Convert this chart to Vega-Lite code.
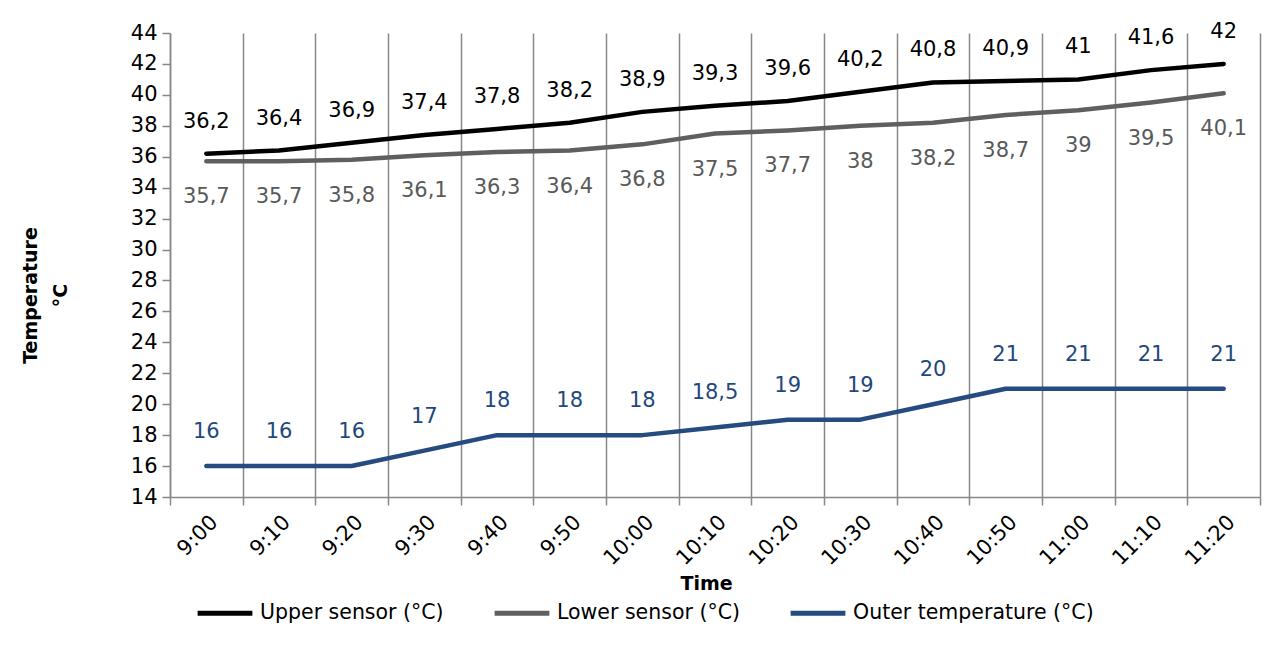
{
  "$schema": "https://vega.github.io/schema/vega-lite/v6.json",
  "width": 1090,
  "height": 464,
  "autosize": {"type": "none"},
  "padding": {"left": 170, "top": 33, "right": 22, "bottom": 149},
  "background": "white",
  "config": {
    "locale": {"number": {"decimal": ",", "thousands": ".", "grouping": [3], "currency": ["", " €"]}},
    "font": "DejaVu Sans",
    "view": {"stroke": null}
  },
  "data": {
    "values": [
      {"time": "9:00", "series": "Upper sensor (°C)", "value": 36.2},
      {"time": "9:10", "series": "Upper sensor (°C)", "value": 36.4},
      {"time": "9:20", "series": "Upper sensor (°C)", "value": 36.9},
      {"time": "9:30", "series": "Upper sensor (°C)", "value": 37.4},
      {"time": "9:40", "series": "Upper sensor (°C)", "value": 37.8},
      {"time": "9:50", "series": "Upper sensor (°C)", "value": 38.2},
      {"time": "10:00", "series": "Upper sensor (°C)", "value": 38.9},
      {"time": "10:10", "series": "Upper sensor (°C)", "value": 39.3},
      {"time": "10:20", "series": "Upper sensor (°C)", "value": 39.6},
      {"time": "10:30", "series": "Upper sensor (°C)", "value": 40.2},
      {"time": "10:40", "series": "Upper sensor (°C)", "value": 40.8},
      {"time": "10:50", "series": "Upper sensor (°C)", "value": 40.9},
      {"time": "11:00", "series": "Upper sensor (°C)", "value": 41},
      {"time": "11:10", "series": "Upper sensor (°C)", "value": 41.6},
      {"time": "11:20", "series": "Upper sensor (°C)", "value": 42},
      {"time": "9:00", "series": "Lower sensor (°C)", "value": 35.7},
      {"time": "9:10", "series": "Lower sensor (°C)", "value": 35.7},
      {"time": "9:20", "series": "Lower sensor (°C)", "value": 35.8},
      {"time": "9:30", "series": "Lower sensor (°C)", "value": 36.1},
      {"time": "9:40", "series": "Lower sensor (°C)", "value": 36.3},
      {"time": "9:50", "series": "Lower sensor (°C)", "value": 36.4},
      {"time": "10:00", "series": "Lower sensor (°C)", "value": 36.8},
      {"time": "10:10", "series": "Lower sensor (°C)", "value": 37.5},
      {"time": "10:20", "series": "Lower sensor (°C)", "value": 37.7},
      {"time": "10:30", "series": "Lower sensor (°C)", "value": 38},
      {"time": "10:40", "series": "Lower sensor (°C)", "value": 38.2},
      {"time": "10:50", "series": "Lower sensor (°C)", "value": 38.7},
      {"time": "11:00", "series": "Lower sensor (°C)", "value": 39},
      {"time": "11:10", "series": "Lower sensor (°C)", "value": 39.5},
      {"time": "11:20", "series": "Lower sensor (°C)", "value": 40.1},
      {"time": "9:00", "series": "Outer temperature (°C)", "value": 16},
      {"time": "9:10", "series": "Outer temperature (°C)", "value": 16},
      {"time": "9:20", "series": "Outer temperature (°C)", "value": 16},
      {"time": "9:30", "series": "Outer temperature (°C)", "value": 17},
      {"time": "9:40", "series": "Outer temperature (°C)", "value": 18},
      {"time": "9:50", "series": "Outer temperature (°C)", "value": 18},
      {"time": "10:00", "series": "Outer temperature (°C)", "value": 18},
      {"time": "10:10", "series": "Outer temperature (°C)", "value": 18.5},
      {"time": "10:20", "series": "Outer temperature (°C)", "value": 19},
      {"time": "10:30", "series": "Outer temperature (°C)", "value": 19},
      {"time": "10:40", "series": "Outer temperature (°C)", "value": 20},
      {"time": "10:50", "series": "Outer temperature (°C)", "value": 21},
      {"time": "11:00", "series": "Outer temperature (°C)", "value": 21},
      {"time": "11:10", "series": "Outer temperature (°C)", "value": 21},
      {"time": "11:20", "series": "Outer temperature (°C)", "value": 21}
    ]
  },
  "encoding": {
    "x": {
      "field": "time",
      "type": "ordinal",
      "sort": null,
      "scale": {"type": "band", "paddingInner": 0, "paddingOuter": 0},
      "axis": {
        "tickBand": "extent",
        "grid": true,
        "gridColor": "#878787",
        "gridWidth": 1.5,
        "domainColor": "#878787",
        "domainWidth": 1.5,
        "tickColor": "#878787",
        "tickWidth": 1.5,
        "tickSize": 8,
        "labelAngle": -45,
        "labelFontSize": 21,
        "labelColor": "black",
        "labelPadding": 6,
        "title": "Time",
        "titleFontSize": 19,
        "titleFontWeight": "bold",
        "titleColor": "black",
        "titleX": 536,
        "titleY": 86,
        "titleBaseline": "middle"
      }
    },
    "y": {
      "field": "value",
      "type": "quantitative",
      "scale": {"domain": [14, 44], "nice": false, "zero": false},
      "axis": {
        "values": [14, 16, 18, 20, 22, 24, 26, 28, 30, 32, 34, 36, 38, 40, 42, 44],
        "grid": false,
        "domainColor": "#878787",
        "domainWidth": 1.5,
        "tickColor": "#878787",
        "tickWidth": 1.5,
        "tickSize": 8,
        "labelFontSize": 21,
        "labelColor": "black",
        "labelPadding": 5,
        "title": ["Temperature", "°C"],
        "titleFontSize": 19,
        "titleFontWeight": "bold",
        "titleColor": "black",
        "titleLineHeight": 30,
        "titleX": -140,
        "titleY": 262,
        "titleBaseline": "middle",
        "titleAlign": "center"
      }
    }
  },
  "layer": [
    {
      "mark": {"type": "line", "strokeWidth": 4.5, "strokeCap": "round", "strokeJoin": "round"},
      "encoding": {
        "color": {
          "field": "series",
          "type": "nominal",
          "sort": null,
          "scale": {
            "domain": ["Upper sensor (°C)", "Lower sensor (°C)", "Outer temperature (°C)"],
            "range": ["#000000", "#5f5f5f", "#254b80"]
          },
          "legend": {
            "orient": "none",
            "legendX": 25,
            "legendY": 550,
            "direction": "horizontal",
            "title": null,
            "symbolType": "stroke",
            "symbolSize": 3000,
            "symbolStrokeWidth": 5,
            "labelFontSize": 20.5,
            "labelColor": "black",
            "labelOffset": 5,
            "columnPadding": 40,
            "labelLimit": 400
          }
        }
      }
    },
    {
      "transform": [{"filter": "datum.series === 'Upper sensor (°C)'"}],
      "mark": {"type": "text", "dy": -32, "fontSize": 21, "color": "#000000"},
      "encoding": {"text": {"field": "value", "type": "quantitative", "format": "~g"}}
    },
    {
      "transform": [{"filter": "datum.series === 'Lower sensor (°C)'"}],
      "mark": {"type": "text", "dy": 36, "fontSize": 21, "color": "#595959"},
      "encoding": {"text": {"field": "value", "type": "quantitative", "format": "~g"}}
    },
    {
      "transform": [{"filter": "datum.series === 'Outer temperature (°C)'"}],
      "mark": {"type": "text", "dy": -34, "fontSize": 21, "color": "#1f497d"},
      "encoding": {"text": {"field": "value", "type": "quantitative", "format": "~g"}}
    }
  ]
}
